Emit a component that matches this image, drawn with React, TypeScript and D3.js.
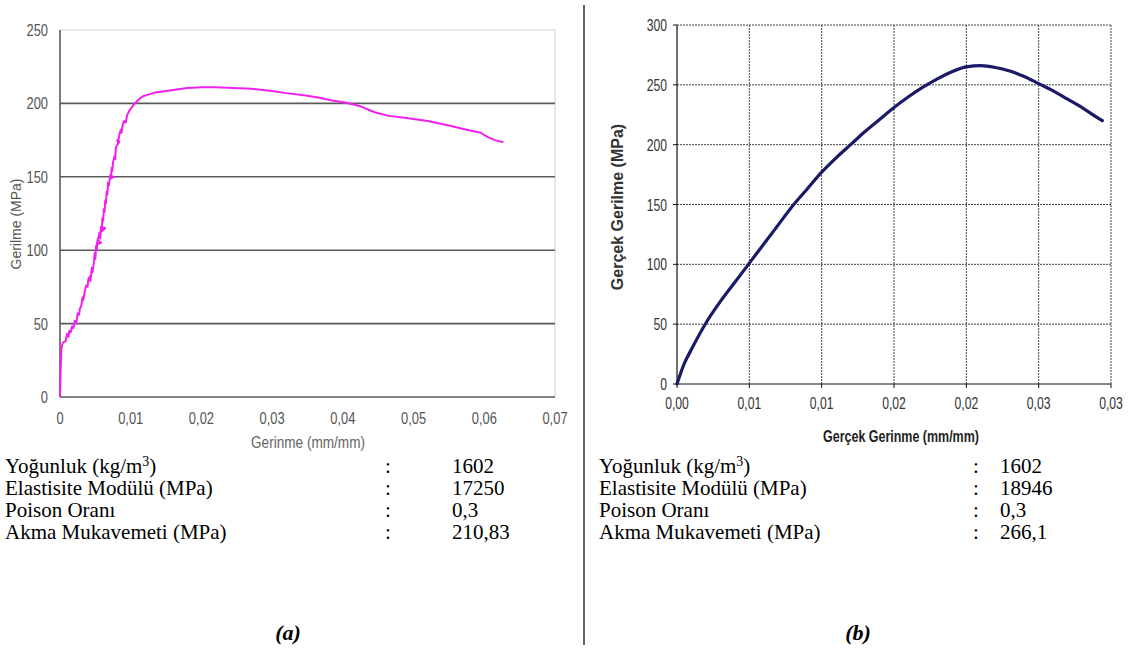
import React from "react";
import * as d3 from "d3";

// ---------- Data: panel (a) engineering stress-strain ----------
const strainA: number[] = [
  0, 0.0001, 0.0002, 0.0004, 0.0008, 0.001, 0.0012, 0.0013, 0.0015, 0.0017, 0.0019,
  0.0021, 0.0023, 0.0025, 0.0027, 0.0028, 0.003, 0.0032, 0.0033, 0.0035, 0.0037,
  0.0039, 0.004, 0.0042, 0.0043, 0.0045, 0.0046, 0.0048, 0.0049, 0.005, 0.0051,
  0.0052, 0.0053, 0.0058, 0.0052, 0.0056, 0.0057, 0.0058, 0.0064, 0.0059, 0.006,
  0.0061, 0.0062, 0.0063, 0.0064, 0.0065, 0.0066, 0.0067, 0.0068, 0.0069, 0.0071,
  0.0076, 0.0072, 0.0073, 0.0074, 0.0075, 0.0077, 0.0078, 0.0079, 0.0084, 0.0081,
  0.0082, 0.0084, 0.0086, 0.0087, 0.0089, 0.0091, 0.0093, 0.0095, 0.0098, 0.0101,
  0.0104, 0.0108, 0.0112, 0.0118, 0.0125, 0.0135, 0.015, 0.0165, 0.018, 0.02,
  0.022, 0.0245, 0.027, 0.03, 0.032, 0.0345, 0.0365, 0.0385, 0.0405, 0.0425,
  0.0445, 0.0465, 0.049, 0.052, 0.055, 0.0575, 0.0595, 0.0605, 0.0615, 0.0627,
];
const stressA: number[] = [
  0, 20, 33, 37, 38, 43, 41, 45, 44, 48, 47,
  52, 50, 57, 56, 60, 62, 68, 66, 72, 76,
  75, 80, 82, 79, 88, 85, 92, 98, 94, 103,
  100, 107, 105, 104, 112, 108, 116, 115, 113, 122,
  120, 128, 126, 134, 132, 140, 138, 146, 144, 151,
  150, 149, 156, 154, 160, 164, 162, 170, 174, 175,
  173, 179, 182, 180, 186, 188, 187, 192, 195, 197,
  199, 201, 203, 205, 206, 207.5, 208.5, 209.5, 210.5, 211,
  211, 210.5, 210, 208.5, 207, 205.5, 204, 202, 200.5, 198,
  194, 191.5, 190, 188, 185, 182, 180, 177, 175, 173.5,
];

const xTicksA: number[] = [0, 0.01, 0.02, 0.03, 0.04, 0.05, 0.06, 0.07];
const xTickLabelsA: string[] = ["0", "0,01", "0,02", "0,03", "0,04", "0,05", "0,06", "0,07"];
const yTicksA: number[] = [0, 50, 100, 150, 200, 250];

// ---------- Data: panel (b) true stress-strain ----------
const strainB: number[] = [
  0, 0.0005, 0.001, 0.002, 0.003, 0.004, 0.005, 0.006, 0.007, 0.008, 0.009,
  0.01, 0.011, 0.012, 0.013, 0.014, 0.015, 0.016, 0.017, 0.018, 0.019,
  0.02, 0.021, 0.022, 0.023, 0.024, 0.025, 0.026, 0.027, 0.028, 0.029, 0.0294,
];
const stressB: number[] = [
  0, 17, 29, 51, 69, 85, 101, 117, 133, 149, 163,
  177, 189, 200, 211, 221, 231, 240, 248, 255, 261,
  265, 266, 264.5, 261.5, 257, 251, 245, 238, 231, 223, 220,
];
const xTicksB: number[] = [0, 0.005, 0.01, 0.015, 0.02, 0.025, 0.03];
const xTickLabelsB: string[] = ["0,00", "0,01", "0,01", "0,02", "0,02", "0,03", "0,03"];
const yTicksB: number[] = [0, 50, 100, 150, 200, 250, 300];

// ---------- Property tables ----------
const propLabels: string[] = ["Yoğunluk (kg/m", "Elastisite Modülü (MPa)", "Poison Oranı", "Akma Mukavemeti (MPa)"];
const propValuesA: string[] = ["1602", "17250", "0,3", "210,83"];
const propValuesB: string[] = ["1602", "18946", "0,3", "266,1"];

const SANS = "'Liberation Sans', Arial, sans-serif";
const SERIF = "'Liberation Serif', 'Times New Roman', serif";

function Narrow(props: {
  x: number; y: number; anchor: string; size: number; fill: string; sx?: number;
  weight?: string; rotate?: number; children: React.ReactNode;
}) {
  const sx = props.sx ?? 0.76;
  const rot = props.rotate ? ` rotate(${props.rotate})` : "";
  return (
    <text
      transform={`translate(${props.x},${props.y})${rot} scale(${sx},1)`}
      textAnchor={props.anchor}
      fontFamily={SANS}
      fontSize={props.size}
      fontWeight={props.weight ?? "normal"}
      fill={props.fill}
    >
      {props.children}
    </text>
  );
}

export default function App() {
  // panel a scales
  const xA = d3.scaleLinear().domain([0, 0.07]).range([60, 555]);
  const yA = d3.scaleLinear().domain([0, 250]).range([397, 30]);
  const ptsA: [number, number][] = strainA.map((s, i) => [s, stressA[i]]);
  const lineA = d3.line<[number, number]>().x((d) => xA(d[0])).y((d) => yA(d[1]));

  // panel b scales
  const xB = d3.scaleLinear().domain([0, 0.03]).range([677, 1111]);
  const yB = d3.scaleLinear().domain([0, 300]).range([384, 25]);
  const ptsB: [number, number][] = strainB.map((s, i) => [s, stressB[i]]);
  const lineB = d3
    .line<[number, number]>()
    .x((d) => xB(d[0]))
    .y((d) => yB(d[1]))
    .curve(d3.curveMonotoneX);

  const rowY = [473, 495, 517, 539];
  const tableFont = 21;

  return (
    <svg
      width={1128}
      height={648}
      style={{ position: "absolute", left: 0, top: 0, background: "#fff" }}
    >
      <rect x={0} y={0} width={1128} height={648} fill="#fff" />

      {/* ---------------- Panel (a) ---------------- */}
      <line x1={60} x2={555} y1={yA(250)} y2={yA(250)} stroke="#d0d0d0" strokeWidth={1} />
      <line x1={555} x2={555} y1={yA(250)} y2={yA(0)} stroke="#d0d0d0" strokeWidth={1} />
      {yTicksA.filter((t) => t > 0 && t < 250).map((t) => (
        <line key={t} x1={60} x2={555} y1={yA(t)} y2={yA(t)} stroke="#5a5a5a" strokeWidth={1.6} />
      ))}
      <line x1={60} x2={555} y1={yA(0)} y2={yA(0)} stroke="#5a5a5a" strokeWidth={1.6} />
      <line x1={60} x2={60} y1={yA(250)} y2={yA(0)} stroke="#5a5a5a" strokeWidth={1.6} />
      <path d={lineA(ptsA) ?? ""} fill="none" stroke="#f020f0" strokeWidth={2} strokeLinejoin="round" />
      {yTicksA.map((t) => (
        <Narrow key={t} x={48} y={yA(t) + 6} anchor="end" size={17} fill="#555">{t}</Narrow>
      ))}
      {xTicksA.map((t, i) => (
        <Narrow key={t} x={xA(t)} y={424} anchor="middle" size={17} fill="#555">{xTickLabelsA[i]}</Narrow>
      ))}
      <Narrow x={308} y={448} anchor="middle" size={16} fill="#666" sx={0.85}>Gerinme (mm/mm)</Narrow>
      <Narrow x={21} y={224} anchor="middle" size={14} fill="#555" rotate={-90} sx={1}>Gerilme (MPa)</Narrow>

      {/* ---------------- Panel (b) ---------------- */}
      {yTicksB.filter((t) => t > 0).map((t) => (
        <line key={t} x1={677} x2={1111} y1={yB(t)} y2={yB(t)} stroke="#444" strokeWidth={1} strokeDasharray="2 1" />
      ))}
      {xTicksB.filter((t) => t > 0).map((t) => (
        <line key={t} x1={xB(t)} x2={xB(t)} y1={yB(300)} y2={yB(0)} stroke="#444" strokeWidth={1} strokeDasharray="2 1" />
      ))}
      {yTicksB.map((t) => (
        <line key={"yt" + t} x1={673} x2={677} y1={yB(t)} y2={yB(t)} stroke="#111" strokeWidth={1} />
      ))}
      {xTicksB.map((t) => (
        <line key={"xt" + t} x1={xB(t)} x2={xB(t)} y1={yB(0)} y2={yB(0) + 4} stroke="#111" strokeWidth={1} />
      ))}
      <line x1={677} x2={1111} y1={yB(0)} y2={yB(0)} stroke="#111" strokeWidth={1.2} />
      <line x1={677} x2={677} y1={yB(300)} y2={yB(0)} stroke="#111" strokeWidth={1.2} />
      <path d={lineB(ptsB) ?? ""} fill="none" stroke="#1a1a66" strokeWidth={3.2} strokeLinecap="round" />
      {yTicksB.map((t) => (
        <Narrow key={t} x={667} y={yB(t) + 6} anchor="end" size={16} fill="#333">{t}</Narrow>
      ))}
      {xTicksB.map((t, i) => (
        <Narrow key={t} x={xB(t)} y={409} anchor="middle" size={16} fill="#333">{xTickLabelsB[i]}</Narrow>
      ))}
      <Narrow x={901} y={442} anchor="middle" size={16} fill="#222" weight="bold" sx={0.78}>Gerçek Gerinme (mm/mm)</Narrow>
      <Narrow x={623} y={207} anchor="middle" size={16} fill="#333" weight="bold" rotate={-90} sx={1}>Gerçek Gerilme (MPa)</Narrow>

      {/* divider */}
      <line x1={584} x2={584} y1={5} y2={645} stroke="#333" strokeWidth={1.5} />

      {/* ---------------- Property tables ---------------- */}
      {propLabels.map((lab, i) => (
        <g key={i} fontFamily={SERIF} fontSize={tableFont} fill="#000">
          <text x={5} y={rowY[i]}>
            {lab}
            {i === 0 && (
              <>
                <tspan dy={-7} fontSize={14}>3</tspan>
                <tspan dy={7}>)</tspan>
              </>
            )}
          </text>
          <text x={385} y={rowY[i]}>:</text>
          <text x={452} y={rowY[i]}>{propValuesA[i]}</text>
          <text x={599} y={rowY[i]}>
            {lab}
            {i === 0 && (
              <>
                <tspan dy={-7} fontSize={14}>3</tspan>
                <tspan dy={7}>)</tspan>
              </>
            )}
          </text>
          <text x={973} y={rowY[i]}>:</text>
          <text x={1000} y={rowY[i]}>{propValuesB[i]}</text>
        </g>
      ))}
      <text x={288} y={640} textAnchor="middle" fontFamily={SERIF} fontSize={22} fontWeight="bold" fontStyle="italic">(a)</text>
      <text x={858} y={640} textAnchor="middle" fontFamily={SERIF} fontSize={22} fontWeight="bold" fontStyle="italic">(b)</text>
    </svg>
  );
}
